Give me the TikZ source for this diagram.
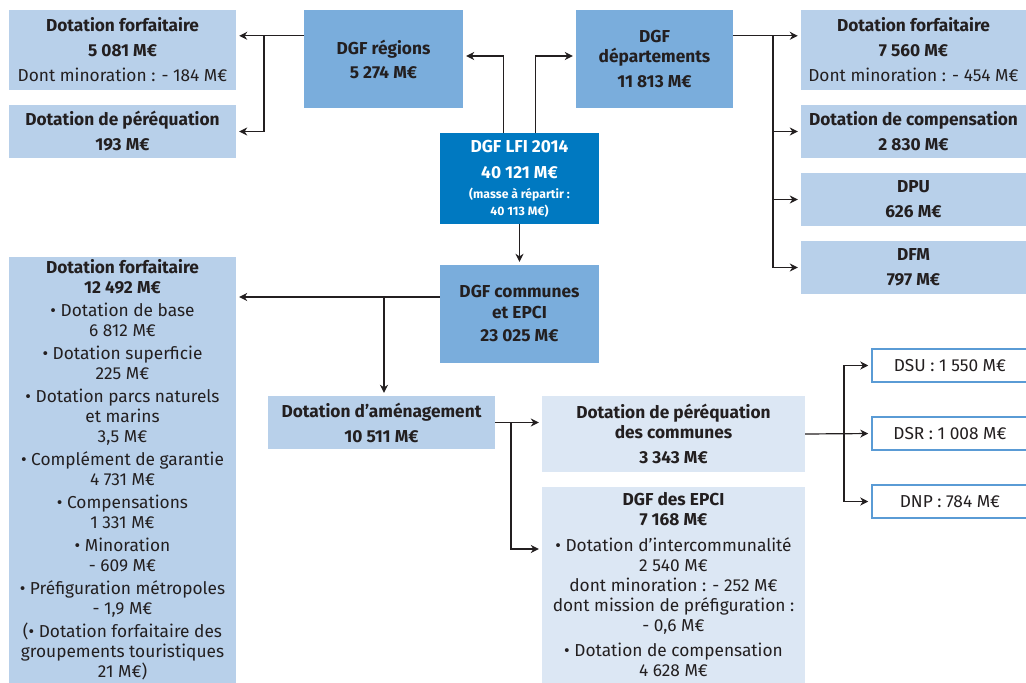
\documentclass[tikz,border=0pt]{standalone}
\usepackage{fontspec}
\setmainfont{Fira Sans}
\usepackage{tikz}
\usetikzlibrary{arrows.meta}
\definecolor{lfiblue}{RGB}{0,121,193}
\definecolor{dgfblue}{RGB}{122,173,220}
\definecolor{leafblue}{RGB}{184,208,234}
\definecolor{paleblue}{RGB}{220,231,244}
\definecolor{lineblue}{RGB}{90,155,213}
\definecolor{ink}{RGB}{35,31,32}
\newcommand\boxfont{\fontsize{17.3}{20}\selectfont}
\newcommand\notefont{\fontsize{12.2}{14}\selectfont}
\tikzset{
  basic/.style   = {rectangle, inner sep=0pt, align=center, text=ink,
                    font=\boxfont},
  root/.style    = {basic, fill=lfiblue, text=white, font=\boxfont\bfseries},
  dgfbox/.style  = {basic, fill=dgfblue, minimum width=159pt, minimum height=98pt,
                    font=\boxfont\bfseries},
  leaf/.style    = {basic, fill=leafblue, font=\boxfont\bfseries},
  subleaf/.style = {basic, fill=paleblue},
  total/.style   = {basic, fill=white, draw=lineblue, line width=1.5pt,
                    minimum width=156pt, minimum height=33pt}
}

\begin{document}
\begin{tikzpicture}[x=1pt, y=-1pt,
  link/.style={->, draw=ink, line width=1.2pt, shorten >=3pt},
  >={Stealth[length=8pt, width=8pt, inset=2.5pt]}]
\useasboundingbox (0,0) rectangle (1026,683);

% the total and its three parts
\node[root, minimum width=159pt, minimum height=91pt] (lfi) at (519.5,178.5)
  {DGF LFI 2014\\[6pt] 40~121 M€\\
   {\notefont (masse à répartir :}\\[-3pt]
   {\notefont 40~113 M€)}};
\node[dgfbox] (reg) at (383.5,59) {DGF régions\\[4pt] 5~274 M€};
\node[dgfbox, minimum width=157pt] (dep) at (654.5,59)
  {DGF\\ départements\\[5pt] 11~813 M€};
\node[dgfbox] (com) at (519.5,314) {DGF communes\\ et EPCI\\[4pt] 23~025 M€};

% regions
\node[leaf, minimum width=227pt, minimum height=80pt] (r1) at (122.5,50)
  {Dotation forfaitaire\\[5pt] 5~081 M€\\[5pt] {\mdseries Dont minoration : - 184 M€}};
\node[leaf, minimum width=227pt, minimum height=53pt] (r2) at (122.5,131.5)
  {Dotation de péréquation\\[5pt] 193 M€};

% departments
\node[leaf, minimum width=225pt, minimum height=80pt] (d1) at (913.5,50)
  {Dotation forfaitaire\\[5pt] 7~560 M€\\[5pt] {\mdseries Dont minoration : - 454 M€}};
\node[leaf, minimum width=225pt, minimum height=53pt] (d2) at (913.5,131.5)
  {Dotation de compensation\\[5pt] 2~830 M€};
\node[leaf, minimum width=225pt, minimum height=53pt] (d3) at (913.5,199.5)
  {DPU\\[5pt] 626 M€};
\node[leaf, minimum width=225pt, minimum height=53pt] (d4) at (913.5,267.5)
  {DFM\\[5pt] 797 M€};

% communes and EPCI
\node[leaf, minimum width=227pt, minimum height=426pt, font=\boxfont]
  (c1) at (122.5,470)
  {\textbf{Dotation forfaitaire}\\ \textbf{12~492 M€}\\[3pt]
   • Dotation de base\\ 6~812 M€\\[3pt]
   • Dotation superficie\\ 225 M€\\[3pt]
   • Dotation parcs naturels\\ et marins\\ 3,5 M€\\[3pt]
   • Complément de garantie\\ 4~731 M€\\[3pt]
   • Compensations\\ 1~331 M€\\[3pt]
   • Minoration\\ - 609 M€\\[3pt]
   • Préfiguration métropoles\\ - 1,9 M€\\[3pt]
   (• Dotation forfaitaire des\\ groupements touristiques\\ 21 M€)};
\node[leaf, minimum width=227pt, minimum height=53pt] (c2) at (381.5,422.5)
  {Dotation d’aménagement\\[5pt] 10~511 M€};
\node[subleaf, minimum width=263pt, minimum height=76pt, font=\boxfont\bfseries]
  (c21) at (673.5,434)
  {Dotation de péréquation\\ des communes\\[5pt] 3~343 M€};
\node[subleaf, minimum width=263pt, minimum height=196pt] (c22) at (673.5,585)
  {\textbf{DGF des EPCI}\\ \textbf{7~168 M€}\\[6pt]
   • Dotation d’intercommunalité\\ 2~540 M€\\
   dont minoration : - 252 M€\\ dont mission de préfiguration :\\ - 0,6 M€\\[5pt]
   • Dotation de compensation\\ 4~628 M€};
\node[total] (c211) at (950,365.5) {DSU : 1~550 M€};
\node[total] (c212) at (950,433.5) {DSR : 1~008 M€};
\node[total] (c213) at (950,501.5) {DNP : 784 M€};

% arrows from the total
\draw[link] ([xshift=-16pt]lfi.north) |- ([yshift=3pt]reg.east);
\draw[link] ([xshift=16pt]lfi.north) |- ([yshift=3pt]dep.west);
\draw[link] (lfi) -- (com);

% regions to their parts
\draw[link] ([yshift=-26pt]reg.north west) -- ([yshift=-26pt]r1.north east);
\coordinate (jr) at (264,36);
\draw[link] (jr) |- (r2.east);

% departments to their parts
\draw[link] ([yshift=-26pt]dep.north east) -- ([yshift=-26pt]d1.north west);
\coordinate (jd) at (773,36);
\foreach \value in {2,3,4}
  \draw[link] (jd) |- (d\value.west);

% communes to their parts
\coordinate (cw) at ([yshift=17pt]com.west);
\draw[link] (cw) -- (cw -| c1.east);
\coordinate (jc) at (384,297);
\draw[link] (jc) -- (jc |- c2.north);

\draw[link] (c2.east) -- (c2.east -| c21.west);
\coordinate (ja) at (511,422.5);
\draw[link] (ja) |- ([yshift=36pt]c22.west);

\draw[link] (c21.east) -- (c212.west);
\coordinate (jp) at (844,434);
\foreach \value in {1,3}
  \draw[link] (jp) |- (c21\value.west);
\end{tikzpicture}
\end{document}
